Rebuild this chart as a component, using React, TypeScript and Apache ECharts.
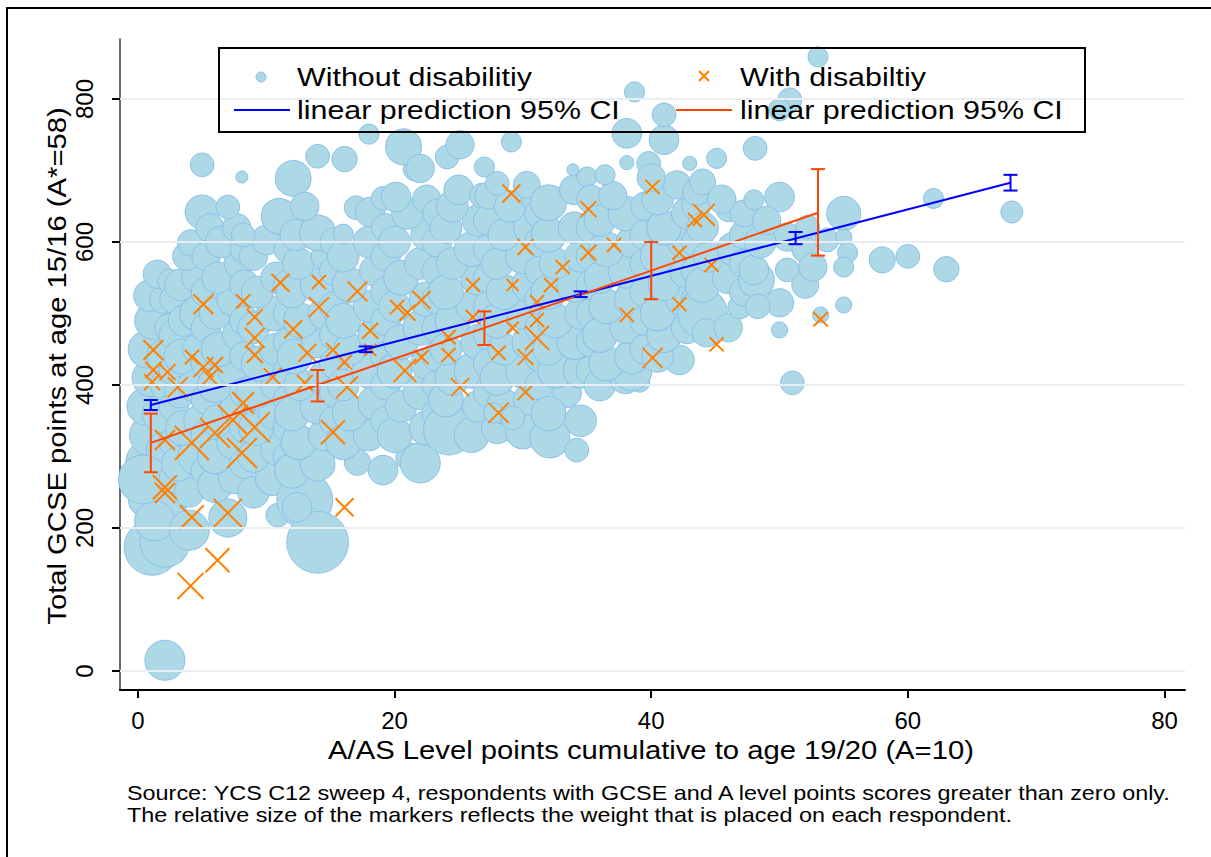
import { useEffect, useRef } from 'react';
import * as echarts from 'echarts';

// Axis ticks
const xTicks = [0, 20, 40, 60, 80];
const yTicks = [0, 200, 400, 600, 800];

// Respondents without disability: [A/AS points, GCSE points, survey weight]
const withoutDisability: [number, number, number][] = [
  // x ~ 0-3
  [1.1, 173, 7.8], [2.1, 180, 6.2], [2.1, 15, 4], [0.8, 292, 5], [1.5, 250, 4], [1, 330, 4.5], [2, 310, 3],
  [0.6, 370, 3.5], [1.8, 360, 3.5], [1, 410, 3.5], [2.2, 400, 2.5], [0.7, 450, 3.5], [1.9, 440, 2.5],
  [1.2, 490, 3.5], [2.4, 480, 2], [0.9, 525, 2.5], [2, 520, 2], [1.5, 555, 2], [2.5, 545, 1.5],
  [0.6, 240, 3], [2.4, 230, 3], [1.3, 210, 4], [0.4, 268, 6],
  [2.8, 270, 2.2], [2.8, 320, 2.2], [2.8, 370, 2.2], [2.8, 420, 2.2], [2.8, 470, 2.2], [2.8, 520, 2],
  // x ~ 3-5
  [4, 197, 4], [4, 250, 2.2], [3.2, 290, 3], [4.6, 300, 3.5], [3.5, 340, 3], [4.8, 350, 2.5], [3.3, 390, 2.5],
  [4.5, 400, 3], [3.4, 440, 3], [4.7, 450, 2.5], [3.6, 490, 2.5], [4.6, 500, 3], [3.3, 540, 2.5],
  [4.5, 550, 2], [3.8, 580, 2], [4.1, 599, 1.7], [5, 642, 2.9], [5, 708, 1.4],
  [5.3, 280, 2.2], [5.3, 330, 2.2], [5.3, 380, 2.2], [5.3, 430, 2.2], [5.3, 480, 2.2], [5.3, 530, 2.2],
  [5.3, 580, 2], [5.6, 620, 2],
  // x ~ 5.5-8
  [7, 214, 3.6], [6, 260, 3], [7.5, 270, 2.5], [6, 300, 3], [7.5, 320, 3], [6.2, 350, 2.5], [7.8, 370, 3],
  [6, 400, 3], [7.5, 420, 2.5], [6.3, 450, 3], [7.8, 470, 2.5], [6, 500, 2.5], [7.5, 520, 3], [6.2, 550, 2.5],
  [7.8, 570, 2], [6.5, 600, 2.5], [7.7, 620, 2], [7, 649, 1.4], [8.1, 691, 0.36],
  [8.3, 290, 2.2], [8.3, 340, 2.2], [8.3, 390, 2.2], [8.3, 440, 2.2], [8.3, 490, 2.2], [8.3, 540, 2.2],
  [8.3, 590, 2],
  // x ~ 8.5-11
  [10.9, 218, 1.4], [9, 250, 2.5], [10.5, 270, 3], [9, 300, 2.5], [10.8, 310, 2.5], [9.2, 340, 3],
  [10.6, 360, 2.5], [9, 390, 3], [10.8, 400, 2.5], [9.4, 430, 3], [10.7, 450, 2.5], [9, 480, 2.5],
  [10.6, 500, 3], [9.3, 530, 2.5], [10.8, 550, 2.5], [9, 580, 2], [10, 603, 2.2], [8.2, 610, 1.4],
  [11, 636, 3.2], [12.1, 689, 3.2],
  [11.7, 300, 2.2], [11.7, 340, 2.2], [11.7, 380, 2.2], [11.7, 420, 2.2], [11.7, 460, 2.2], [11.7, 500, 2.2],
  [11.7, 540, 2.2], [11.7, 590, 2],
  // x ~ 11.5-15
  [13, 239, 7.8], [14, 180, 9.5], [12.4, 229, 2.2], [12, 280, 3], [14, 290, 3], [12.5, 320, 3],
  [14.5, 330, 2.5], [12, 360, 3], [14, 370, 3], [12.6, 400, 2.5], [14.6, 410, 3], [12.2, 440, 3],
  [14, 460, 2.5], [12.7, 490, 3], [14.5, 500, 2.5], [12, 530, 2.5], [14, 540, 3], [12.5, 570, 2.5],
  [14.6, 580, 2], [12.3, 610, 2.5], [14, 613, 3.2], [13, 650, 2], [14, 720, 1.4], [16.1, 716, 1.6],
  [15.3, 350, 2.2], [15.3, 390, 2.2], [15.3, 430, 2.2], [15.3, 470, 2.2], [15.3, 510, 2.2], [15.3, 560, 2.2],
  [15.3, 600, 2],
  // x ~ 15.5-19
  [17.1, 292, 1.7], [19.1, 281, 2.2], [16, 320, 3], [18, 330, 2.5], [16.5, 360, 3], [18.5, 375, 3],
  [16, 400, 2.5], [18, 420, 3], [16.5, 450, 2.5], [18.5, 470, 3], [16, 490, 3], [18, 510, 2.5],
  [16.5, 540, 3], [18.5, 560, 2.5], [16, 580, 2.5], [18, 600, 2.5], [16, 611, 1], [17, 648, 1.4],
  [18.1, 642, 2.2], [19.1, 661, 1.4], [18, 751, 1],
  [19.3, 350, 2.2], [19.3, 400, 2.2], [19.3, 440, 2.2], [19.3, 490, 2.2], [19.3, 530, 2.2], [19.3, 580, 2.2],
  [19.3, 620, 2],
  // x ~ 19.5-23
  [21.2, 299, 2], [22, 291, 4], [20, 330, 3], [22.5, 340, 3], [20.5, 370, 2.5], [22, 390, 3], [20, 420, 3],
  [22.5, 430, 2.5], [20.5, 460, 3], [22, 480, 3], [20, 510, 2.5], [22.5, 520, 3], [20.5, 550, 3],
  [22, 570, 2.5], [20, 600, 2.5], [22.5, 610, 2.5], [21, 640, 2.5], [20.1, 663, 2.2], [21.6, 702, 1.4],
  [20.7, 733, 3.2], [22.5, 660, 2], [22, 703, 2],
  [23.3, 360, 2.2], [23.3, 400, 2.2], [23.3, 440, 2.2], [23.3, 480, 2.2], [23.3, 520, 2.2], [23.3, 560, 2.2],
  [23.3, 600, 2.2], [23.3, 640, 2],
  // x ~ 23.5-27
  [24.2, 337, 6.2], [26, 330, 3], [24, 380, 3], [26.5, 370, 2.5], [24.5, 410, 3], [26, 420, 3],
  [24, 450, 2.5], [26.5, 460, 3], [24.5, 490, 3], [26, 510, 2.5], [24, 530, 3], [26.5, 550, 3],
  [24.5, 570, 2.5], [26, 590, 3], [24, 620, 2.5], [26.5, 630, 2.5], [24.5, 650, 2.5], [25, 673, 2.2],
  [26.8, 665, 1.5], [24.1, 719, 1.4], [25.1, 736, 2], [27, 705, 1],
  [27.3, 390, 2.2], [27.3, 430, 2.2], [27.3, 470, 2.2], [27.3, 510, 2.2], [27.3, 550, 2.2], [27.3, 590, 2.2],
  [27.3, 630, 2.2], [27.3, 665, 1.8],
  // x ~ 27.5-31
  [28, 340, 2.5], [30, 335, 3], [28.5, 370, 3], [30.5, 380, 2.5], [28, 410, 3], [30, 420, 3],
  [28.5, 450, 2.5], [30.5, 460, 3], [28, 490, 3], [30, 500, 2.5], [28.5, 530, 3], [30.5, 540, 3],
  [28, 570, 2.5], [30, 580, 3], [28.5, 610, 2.5], [30.5, 620, 2.5], [29, 650, 2.5], [28, 682, 1.4],
  [29.1, 740, 1], [31, 660, 2], [27.7, 361, 1], [29.2, 354, 1.4],
  [31.3, 400, 2.2], [31.3, 440, 2.2], [31.3, 480, 2.2], [31.3, 520, 2.2], [31.3, 560, 2.2], [31.3, 600, 2.2],
  [31.3, 640, 2.2], [30.3, 680, 1.8],
  // x ~ 31.5-35
  [32.1, 326, 4], [34.2, 309, 1.4], [33.4, 389, 2.2], [32, 360, 3], [34.5, 350, 2.5], [32.5, 420, 3],
  [34.5, 420, 3], [32, 450, 2.5], [34, 460, 3], [32.5, 490, 3], [34.5, 500, 2.5], [32, 530, 3],
  [34, 540, 3], [32.5, 570, 2.5], [34.5, 580, 2.5], [32, 610, 3], [34, 620, 2.5], [32, 655, 3.2],
  [34, 673, 2.2], [35, 691, 1], [33.9, 701, 0.36],
  [35.3, 420, 2.2], [35.3, 460, 2.2], [35.3, 500, 2.2], [35.3, 540, 2.2], [35.3, 580, 2.2], [35.3, 620, 2.2],
  [35.3, 660, 2],
  // x ~ 35.5-39
  [36, 400, 2.5], [38, 410, 2.5], [39.1, 404, 1], [38.5, 420, 4], [36.5, 430, 3], [38.5, 440, 3],
  [36, 470, 3], [38, 480, 2.5], [36.5, 510, 3], [38.5, 520, 3], [36, 550, 2.5], [38, 560, 3],
  [36.5, 590, 3], [38.5, 600, 2.5], [36, 630, 2.5], [38, 640, 3], [37, 665, 2], [36.4, 694, 1],
  [38.1, 711, 0.5], [38.1, 752, 2.2], [38.7, 810, 1], [39.8, 710, 1.4],
  [39.5, 450, 2.2], [39.5, 490, 2.2], [39.5, 530, 2.2], [39.5, 570, 2.2], [39.5, 610, 2.2], [39.5, 650, 2],
  // x ~ 39.5-43
  [42.2, 435, 2.2], [40.5, 440, 2.5], [41, 470, 3], [42.8, 480, 2.5], [40.5, 500, 3], [42.5, 520, 3],
  [41, 540, 2.5], [42.8, 560, 3], [40.5, 580, 3], [42.5, 600, 2.5], [41, 620, 3], [42.8, 640, 2.5],
  [40.5, 660, 2.5], [42, 680, 2], [41, 743, 2.2], [41, 778, 1.4], [43, 710, 0.5], [40, 690, 2],
  [43.5, 520, 2.2], [43.5, 560, 2.2], [43.5, 600, 2.2], [43.5, 650, 2], [43.5, 670, 1.8],
  // x ~ 43.5-47
  [44, 500, 6.2], [44.3, 473, 2], [46, 480, 2], [46.9, 509, 1.4], [44, 540, 3], [46, 550, 2.5],
  [44.5, 580, 2.5], [46.5, 590, 3], [44, 620, 2.5], [46, 645, 1.4], [44, 684, 1.7], [45.1, 717, 1],
  [45.5, 660, 2],
  [47.2, 530, 2], [47.2, 570, 2], [47.2, 610, 2], [47.2, 640, 1.8],
  // x ~ 47.5-51
  [48.2, 547, 3.2], [48, 561, 2.2], [50, 515, 2], [50.6, 561, 1.4], [50.6, 607, 2], [50, 663, 2.2],
  [48, 659, 1], [48.1, 731, 1.4], [50, 477, 0.64], [50.8, 799, 1.4], [48.5, 600, 2.5], [49, 630, 2],
  [48.3, 510, 1.5], [50, 785, 1.2], [52, 540, 1.8], [52, 590, 1.8],
  // x ~ 51.5-56
  [55, 640, 2.9], [53.7, 603, 1.4], [55, 607, 0.64], [55.3, 585, 1], [55, 565, 1], [52.6, 565, 2],
  [52.2, 621, 1.4], [55, 512, 0.64], [53.2, 498, 0.64], [53, 859, 1], [51, 403, 1.4],
  // high scorers
  [58, 575, 1.7], [60, 580, 1.4], [63, 562, 1.6], [62, 661, 1], [68.1, 642, 1.2],
];

// Respondents with disability: [A/AS points, GCSE points, survey weight]
const withDisability: [number, number, number][] = [
  [5.1, 513, 1], [8.2, 517, 0.5], [9.1, 495, 0.64], [9.1, 466, 1], [9.1, 442, 0.64], [11.1, 543, 0.81],
  [14.1, 544, 0.5], [14.1, 509, 1], [17.1, 531, 1], [12.1, 478, 0.81], [13.2, 445, 0.81], [15.2, 449, 0.5],
  [16.1, 432, 0.5], [18.1, 476, 0.64], [18.1, 449, 0.36], [20.2, 509, 0.5], [21, 501, 0.64], [1.2, 449, 1],
  [1.2, 421, 0.64], [1.1, 404, 0.64], [2.3, 418, 0.64], [3.1, 397, 1], [4.2, 439, 0.5], [5.1, 425, 1],
  [6, 428, 0.64], [5.6, 411, 0.81], [7.4, 351, 2.25], [8.1, 305, 2.25], [6, 333, 2.25], [4.2, 319, 2.9],
  [2.1, 323, 1], [9.1, 341, 2.25], [2.1, 257, 1.44], [2.1, 249, 1], [4.2, 215, 1.44], [7, 221, 2],
  [15.2, 334, 1.44], [16.1, 229, 0.81], [10.5, 411, 0.81], [13, 403, 0.64], [16.3, 397, 1.2],
  [20.8, 420, 1.3], [8.2, 375, 1.2], [6.2, 155, 1.44], [4.1, 119, 1.7],
  [35.1, 646, 0.64], [30.2, 593, 0.64], [35.1, 585, 0.64], [37.1, 596, 0.5], [33.1, 565, 0.5],
  [26.1, 540, 0.5], [29.2, 540, 0.36], [32.2, 540, 0.5], [31.1, 516, 0.5], [22.1, 519, 0.81],
  [26.1, 495, 0.5], [31.1, 491, 0.5], [29.2, 480, 0.36], [24.2, 467, 0.5], [31.1, 466, 1.44],
  [22.1, 439, 0.5], [24.2, 442, 0.5], [28.1, 445, 0.5], [30.2, 439, 0.64], [25.1, 397, 0.81],
  [30.2, 390, 0.64], [28.1, 361, 1], [42.2, 585, 0.5], [42.2, 513, 0.5], [38.1, 498, 0.5],
  [40.1, 438, 1], [43.4, 631, 0.5], [40.1, 677, 0.5], [44.1, 638, 1.2], [44.7, 568, 0.5],
  [53.2, 492, 0.5], [45.1, 457, 0.5], [29.1, 668, 0.81],
];

// Linear predictions with 95% confidence intervals
const blueFitX = [1, 17.75, 34.5, 51.25, 68];
const blueFit = [372, 450, 527, 605, 683];
const blueLow = [365, 446, 523, 597, 672];
const blueHigh = [379, 454, 531, 614, 694];

const orangeFitX = [1, 14, 27, 40, 53];
const orangeFit = [319, 400, 480, 560, 641];
const orangeLow = [278, 377, 456, 520, 581];
const orangeHigh = [360, 421, 503, 600, 702];

const BUBBLE_FILL = '#ADD8E6';
const BUBBLE_EDGE = '#8AC0EA';
const CROSS = '#FF8000';
const ORANGE_LINE = '#FF4500';
const BLUE_LINE = '#0000FF';
const FONT = '"Liberation Sans", Arial, sans-serif';
const STRETCH = 1.17;

const markerSize = (v: number[]) => 20 * Math.sqrt(v[2]);

function ciSeries(xs: number[], lo: number[], hi: number[], color: string) {
  return {
    type: 'custom',
    z: 5,
    silent: true,
    data: xs.map((x, i) => [x, lo[i], hi[i]]),
    encode: { x: 0, y: [1, 2] },
    renderItem: (_params: any, api: any) => {
      const x = api.value(0);
      const a = api.coord([x, api.value(1)]);
      const b = api.coord([x, api.value(2)]);
      const half = 7;
      const style = { stroke: color, lineWidth: 2 };
      return {
        type: 'group',
        children: [
          { type: 'line', shape: { x1: a[0], y1: a[1], x2: b[0], y2: b[1] }, style },
          { type: 'line', shape: { x1: a[0] - half, y1: a[1], x2: a[0] + half, y2: a[1] }, style },
          { type: 'line', shape: { x1: b[0] - half, y1: b[1], x2: b[0] + half, y2: b[1] }, style },
        ],
      };
    },
  };
}

function label(text: string, x: number, y: number, size: number, align = 'left', rotation = 0) {
  return {
    type: 'text',
    x,
    y,
    rotation,
    scaleX: STRETCH,
    z: 100,
    style: {
      text,
      fontSize: size,
      fontFamily: FONT,
      fill: '#000',
      align,
      verticalAlign: 'middle',
      textAlign: align,
      textVerticalAlign: 'middle',
    },
  };
}

export default function App() {
  const ref = useRef<HTMLDivElement>(null);

  useEffect(() => {
    if (!ref.current) return;
    const chart = echarts.init(ref.current, undefined, { renderer: 'svg' });

    const legendLine = (x1: number, x2: number, y: number, color: string) => ({
      type: 'line',
      z: 100,
      shape: { x1, y1: y, x2, y2: y },
      style: { stroke: color, lineWidth: 2 },
    });

    chart.setOption({
      animation: false,
      backgroundColor: '#fff',
      grid: { left: 120, right: 26, top: 39, bottom: 167 },
      xAxis: {
        type: 'value',
        min: -1.4,
        max: 81.6,
        axisLine: { show: true, onZero: false, lineStyle: { color: '#000', width: 2 } },
        axisTick: { show: true, customValues: xTicks, length: 8, lineStyle: { color: '#000', width: 2 } },
        axisLabel: { customValues: xTicks, fontSize: 24, fontFamily: FONT, color: '#000', margin: 18 },
        splitLine: { show: false },
      },
      yAxis: {
        type: 'value',
        min: -26.6,
        max: 884,
        axisLine: { show: true, onZero: false, lineStyle: { color: '#333', width: 1.5 } },
        axisTick: { show: true, customValues: yTicks, length: 8, lineStyle: { color: '#000', width: 2 } },
        axisLabel: { customValues: yTicks, rotate: 90, fontSize: 24, fontFamily: FONT, color: '#000', margin: 24 },
        splitLine: { show: false },
      },
      series: [
        {
          type: 'line',
          data: [],
          z: 1,
          silent: true,
          markLine: {
            silent: true,
            symbol: 'none',
            label: { show: false },
            lineStyle: { color: '#E8EEF4', width: 2, type: 'solid' },
            data: yTicks.map((v) => ({ yAxis: v })),
          },
        },
        {
          name: 'Without disabilitiy',
          type: 'scatter',
          z: 2,
          data: withoutDisability,
          symbol: 'circle',
          symbolSize: markerSize,
          itemStyle: { color: BUBBLE_FILL, borderColor: BUBBLE_EDGE, borderWidth: 1, opacity: 1 },
        },
        {
          name: 'With disabiltiy',
          type: 'scatter',
          z: 3,
          data: withDisability,
          symbol: 'path://M0 0L10 10M10 0L0 10',
          symbolSize: markerSize,
          itemStyle: { color: 'none', borderColor: CROSS, borderWidth: 2, opacity: 1 },
        },
        {
          type: 'line',
          z: 4,
          data: blueFitX.map((x, i) => [x, blueFit[i]]),
          showSymbol: false,
          lineStyle: { color: BLUE_LINE, width: 2 },
        },
        {
          type: 'line',
          z: 4,
          data: orangeFitX.map((x, i) => [x, orangeFit[i]]),
          showSymbol: false,
          lineStyle: { color: ORANGE_LINE, width: 2 },
        },
        ciSeries(blueFitX, blueLow, blueHigh, BLUE_LINE),
        ciSeries(orangeFitX, orangeLow, orangeHigh, ORANGE_LINE),
      ],
      graphic: [
        // outer frame
        {
          type: 'rect',
          z: 100,
          shape: { x: 7, y: 8, width: 1215, height: 900 },
          style: { fill: 'none', stroke: '#000', lineWidth: 2 },
        },
        // legend box
        {
          type: 'rect',
          z: 100,
          shape: { x: 219, y: 48, width: 866, height: 84 },
          style: { fill: 'none', stroke: '#000', lineWidth: 2 },
        },
        {
          type: 'circle',
          z: 100,
          shape: { cx: 261, cy: 77, r: 5 },
          style: { fill: BUBBLE_FILL, stroke: BUBBLE_EDGE, lineWidth: 1 },
        },
        label('Without disabilitiy', 297, 77, 26),
        {
          type: 'group',
          z: 100,
          children: [
            { type: 'line', z: 100, shape: { x1: 699, y1: 71, x2: 709, y2: 81 }, style: { stroke: CROSS, lineWidth: 2 } },
            { type: 'line', z: 100, shape: { x1: 709, y1: 71, x2: 699, y2: 81 }, style: { stroke: CROSS, lineWidth: 2 } },
          ],
        },
        label('With disabiltiy', 740, 77, 26),
        legendLine(234, 290, 110, BLUE_LINE),
        label('linear prediction 95% CI', 297, 110, 26),
        legendLine(676, 732, 110, ORANGE_LINE),
        label('linear prediction 95% CI', 740, 110, 26),
        // axis titles
        label('A/AS Level points cumulative to age 19/20 (A=10)', 651, 750, 25, 'center'),
        label('Total GCSE points at age 15/16 (A*=58)', 57, 366, 25, 'center', Math.PI / 2),
        // note
        label('Source: YCS C12 sweep 4, respondents with GCSE and A level points scores greater than zero only.', 127, 793, 20),
        label('The relative size of the markers reflects the weight that is placed on each respondent.', 127, 815, 20),
      ],
    });

    return () => chart.dispose();
  }, []);

  return <div ref={ref} style={{ position: 'absolute', left: 0, top: 0, width: 1211, height: 857 }} />;
}
